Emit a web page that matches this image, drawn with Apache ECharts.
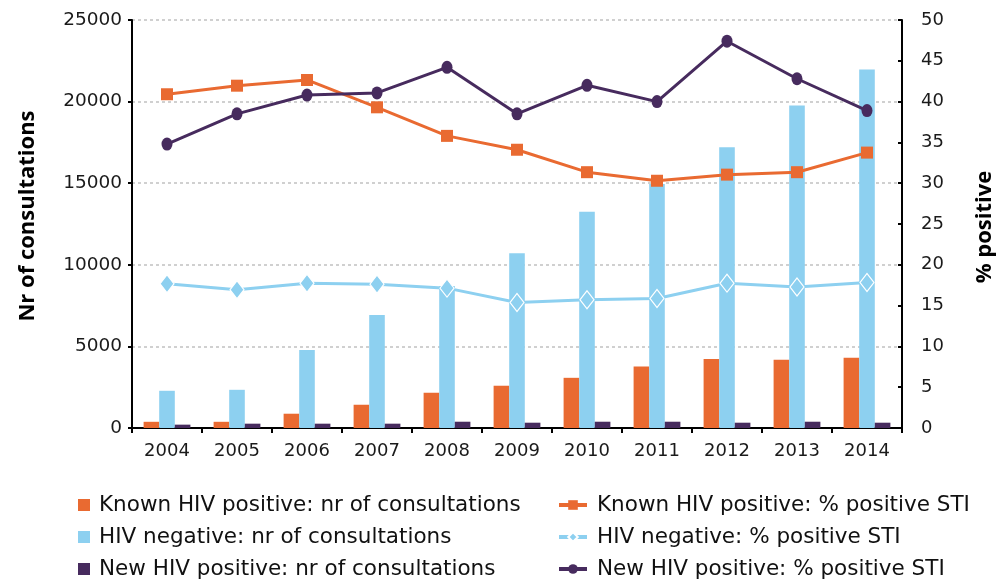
<!DOCTYPE html>
<html>
<head>
<meta charset="utf-8">
<script src="https://cdn.jsdelivr.net/npm/echarts@6/dist/echarts.min.js"></script>
<style>html,body{margin:0;padding:0;background:#fff}#c{width:1002px;height:581px}</style>
</head>
<body>
<div id="c"></div>
<script>
const years = ['2004','2005','2006','2007','2008','2009','2010','2011','2012','2013','2014'];
const knownConsult = [380, 380, 875, 1425, 2160, 2590, 3075, 3765, 4235, 4175, 4300];
const negConsult = [2280, 2340, 4780, 6925, 8700, 10715, 13245, 14950, 17210, 19760, 21960];
const newConsult = [205, 265, 265, 265, 385, 325, 385, 385, 325, 385, 325];
const knownPct = [40.9, 41.95, 42.65, 39.3, 35.8, 34.1, 31.35, 30.3, 31.05, 31.35, 33.75];
const negPct = [17.67, 16.94, 17.75, 17.63, 17.14, 15.38, 15.71, 15.87, 17.75, 17.27, 17.83];
const newPct = [34.8, 38.5, 40.8, 41.06, 44.2, 38.5, 42.0, 40.0, 47.4, 42.8, 38.9];
const leftTicks = [0, 5000, 10000, 15000, 20000, 25000];
const rightTicks = [0, 5, 10, 15, 20, 25, 30, 35, 40, 45, 50];

const ORANGE = '#E96A31', BLUE = '#8DD0F0', PURPLE = '#472B5E';
const numFont = {fontFamily: 'DejaVu Sans', fontSize: 18, color: '#1a1a1a'};
const plain = v => String(v);

const chart = echarts.init(document.getElementById('c'), null, {renderer: 'canvas'});
chart.setOption({
  animation: false,
  backgroundColor: '#fff',
  grid: {left: 132, right: 100, top: 20, bottom: 153, containLabel: false},
  xAxis: {
    type: 'category', data: years, boundaryGap: true,
    axisLine: {lineStyle: {color: '#000', width: 2}},
    axisTick: {show: true, length: 5, lineStyle: {color: '#000', width: 2}},
    axisLabel: Object.assign({margin: 14}, numFont)
  },
  yAxis: [{
    type: 'value', min: leftTicks[0], max: leftTicks[leftTicks.length-1], interval: leftTicks[1]-leftTicks[0],
    axisLine: {show: true, lineStyle: {color: '#000', width: 2}},
    axisTick: {show: true, length: 4, lineStyle: {color: '#000', width: 2}},
    axisLabel: Object.assign({margin: 10, formatter: plain}, numFont, {fontSize: 18.5}),
    splitLine: {show: true, lineStyle: {color: '#d0d0d0', width: 2, type: [3, 3]}}
  }, {
    type: 'value', min: rightTicks[0], max: rightTicks[rightTicks.length-1], interval: rightTicks[1]-rightTicks[0],
    position: 'right',
    axisLine: {show: true, lineStyle: {color: '#000', width: 2}},
    axisTick: {show: true, length: 4, inside: true, lineStyle: {color: '#000', width: 2}},
    axisLabel: Object.assign({margin: 19, formatter: plain}, numFont),
    splitLine: {show: false}
  }],
  legend: [{
    orient: 'vertical', left: 78, top: 494, padding: 0, itemWidth: 12, itemHeight: 12, itemGap: 10, icon: 'rect',
    data: ['Known HIV positive: nr of consultations', 'HIV negative: nr of consultations', 'New HIV positive: nr of consultations'],
    textStyle: {fontFamily: 'DejaVu Sans', fontSize: 21.5, lineHeight: 21, color: '#111', padding: [0, 0, 0, 4]}
  }, {
    orient: 'vertical', left: 557, top: 494, padding: 0, itemWidth: 28, itemHeight: 12, itemGap: 10,
    lineStyle: {width: 4},
    data: ['Known HIV positive: % positive STI', 'HIV negative: % positive STI', 'New HIV positive: % positive STI'],
    textStyle: {fontFamily: 'DejaVu Sans', fontSize: 21.5, lineHeight: 21, color: '#111', padding: [0, 0, 0, 5]}
  }],
  graphic: [{
    type: 'text', x: 28, y: 216, rotation: Math.PI / 2,
    style: {text: 'Nr of consultations', fontFamily: 'Open Sans', fontWeight: 'bold', fontSize: 22, fill: '#000', align: 'center', verticalAlign: 'middle'}
  }, {
    type: 'text', x: 985, y: 227, rotation: Math.PI / 2,
    style: {text: '% positive', fontFamily: 'Open Sans', fontWeight: 'bold', fontSize: 22, fill: '#000', align: 'center', verticalAlign: 'middle'}
  }],
  series: [
    {name: 'Known HIV positive: nr of consultations', type: 'bar', data: knownConsult, barWidth: 15.6, barGap: '0%', itemStyle: {color: ORANGE}},
    {name: 'HIV negative: nr of consultations', type: 'bar', data: negConsult, barWidth: 15.6, barGap: '0%', itemStyle: {color: BLUE}},
    {name: 'New HIV positive: nr of consultations', type: 'bar', data: newConsult, barWidth: 15.6, barGap: '0%', itemStyle: {color: PURPLE}},
    {name: 'Known HIV positive: % positive STI', type: 'line', yAxisIndex: 1, data: knownPct,
      symbol: 'rect', symbolSize: 12, lineStyle: {color: ORANGE, width: 3}, itemStyle: {color: ORANGE}},
    {name: 'HIV negative: % positive STI', type: 'line', yAxisIndex: 1, data: negPct,
      symbol: 'diamond', symbolSize: [14, 18], lineStyle: {color: BLUE, width: 3}, itemStyle: {color: BLUE, borderColor: '#fff', borderWidth: 1.2}},
    {name: 'New HIV positive: % positive STI', type: 'line', yAxisIndex: 1, data: newPct,
      symbol: 'circle', symbolSize: [11, 13], lineStyle: {color: PURPLE, width: 3}, itemStyle: {color: PURPLE}}
  ]
});
</script>
</body>
</html>
